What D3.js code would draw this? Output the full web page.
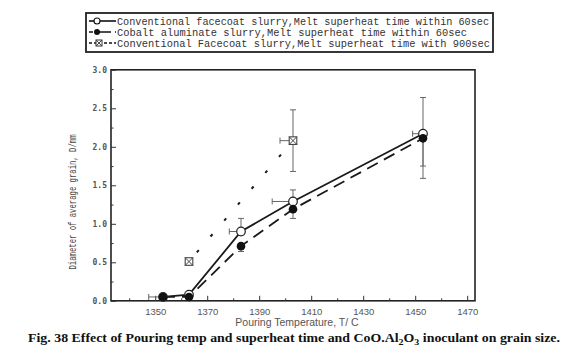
<!DOCTYPE html>
<html>
<head>
<meta charset="utf-8">
<script src="https://cdn.jsdelivr.net/npm/d3@7"></script>
<style>
  body { margin: 0; background: #fff; }
  svg { display: block; }
</style>
</head>
<body>
<svg id="chart" width="571" height="352"></svg>
<script>
// data
var temps = [1353, 1363, 1383, 1403, 1453];
var conv60 = [0.05, 0.08, 0.90, 1.29, 2.17];
var cobalt60 = [0.05, 0.05, 0.71, 1.19, 2.11];
var temps900 = [1363, 1403];
var conv900 = [0.51, 2.08];

// error bar ends (null = none drawn)
var conv60Up = [null, null, 1.07, 1.44, 2.64];
var conv60Down = [null, null, null, null, 1.59];
var conv60Left = [null, null, 1378.5, 1395, 1449];
var cobaltDown = [null, null, 0.64, 1.07, 1.75];
var cobaltLeft = [1347.5, null, null, null, null];
var conv900Up = [null, 2.48];
var conv900Down = [null, 1.68];
var conv900Left = [null, 1398];

var xTicks = [1350, 1370, 1390, 1410, 1430, 1450, 1470];
var xMinor = [1340, 1360, 1380, 1400, 1420, 1440, 1460];
var yTicks = [0, 0.5, 1.0, 1.5, 2.0, 2.5, 3.0];
var yMinor = [0.25, 0.75, 1.25, 1.75, 2.25, 2.75];

var legendLabels = [
  "Conventional facecoat slurry,Melt superheat time within 60sec",
  "Cobalt aluminate slurry,Melt superheat time within 60sec",
  "Conventional Facecoat slurry,Melt superheat time with 900sec"
];

var svg = d3.select("#chart");
svg.append("rect").attr("width", 571).attr("height", 352).attr("fill", "#fff");

var x = d3.scaleLinear().domain([1333, 1473]).range([111, 475]);
var y = d3.scaleLinear().domain([0, 3]).range([300.8, 69.8]);

// frame
svg.append("rect")
  .attr("x", x.range()[0]).attr("y", y.range()[1])
  .attr("width", x.range()[1] - x.range()[0])
  .attr("height", y.range()[0] - y.range()[1])
  .attr("fill", "none").attr("stroke", "#222").attr("stroke-width", 1.6);

// x axis (ticks inward)
var xAxis = svg.append("g").attr("transform", "translate(0," + y(0) + ")");
xAxis.call(d3.axisBottom(x).tickValues(xTicks).tickSize(-5).tickFormat(d3.format("d")));
xAxis.select(".domain").remove();
xAxis.selectAll(".tick line").attr("stroke", "#333");
xAxis.selectAll(".tick text")
  .attr("y", 7).attr("dy", "0.71em")
  .attr("fill", "#555").attr("font-family", "Liberation Sans, Arial, sans-serif")
  .attr("font-size", 9.5);
svg.append("g").attr("transform", "translate(0," + y(0) + ")")
  .call(d3.axisBottom(x).tickValues(xMinor).tickSize(-2.5).tickFormat(""))
  .call(function (g) { g.select(".domain").remove(); g.selectAll("line").attr("stroke", "#333"); });

// y axis
var yAxis = svg.append("g").attr("transform", "translate(" + x.range()[0] + ",0)");
yAxis.call(d3.axisLeft(y).tickValues(yTicks).tickSize(-5).tickFormat(d3.format(".1f")));
yAxis.select(".domain").remove();
yAxis.selectAll(".tick line").attr("stroke", "#333");
yAxis.selectAll(".tick text")
  .attr("x", -4)
  .attr("fill", "#555").attr("font-family", "DejaVu Sans Mono, monospace")
  .attr("font-weight", "bold").attr("font-size", 8);
svg.append("g").attr("transform", "translate(" + x.range()[0] + ",0)")
  .call(d3.axisLeft(y).tickValues(yMinor).tickSize(-2.5).tickFormat(""))
  .call(function (g) { g.select(".domain").remove(); g.selectAll("line").attr("stroke", "#333"); });

// axis titles
svg.append("text")
  .attr("transform", "translate(76,202) rotate(-90)")
  .attr("text-anchor", "middle")
  .attr("font-family", "Liberation Mono, monospace").attr("font-size", 11.5)
  .attr("fill", "#444")
  .attr("textLength", 135).attr("lengthAdjust", "spacingAndGlyphs")
  .text("Diameter of average grain, D/mm");

svg.append("text")
  .attr("x", 297).attr("y", 326)
  .attr("text-anchor", "middle")
  .attr("font-family", "Liberation Sans, Arial, sans-serif").attr("font-size", 10.5)
  .attr("fill", "#555")
  .text("Pouring Temperature, T/ C");

// lines
var lineGen = d3.line().x(function (d) { return x(d[0]); }).y(function (d) { return y(d[1]); });
svg.append("path")
  .datum(d3.zip(temps, conv60))
  .attr("d", lineGen).attr("fill", "none").attr("stroke", "#1a1a1a").attr("stroke-width", 1.8);
svg.append("path")
  .datum(d3.zip(temps, cobalt60))
  .attr("d", lineGen).attr("fill", "none").attr("stroke", "#1a1a1a").attr("stroke-width", 1.8)
  .attr("stroke-dasharray", "12,7");
svg.append("path")
  .datum(d3.zip(temps900, conv900))
  .attr("d", lineGen).attr("fill", "none").attr("stroke", "#1a1a1a").attr("stroke-width", 2)
  .attr("stroke-dasharray", "3,18").attr("stroke-dashoffset", -12);

// error bars
var eb = svg.append("g").attr("stroke", "#666").attr("stroke-width", 1).attr("fill", "none");
function vBar(t, v, end) {
  if (end == null) return;
  eb.append("line").attr("x1", x(t)).attr("x2", x(t)).attr("y1", y(v)).attr("y2", y(end));
  eb.append("line").attr("x1", x(t) - 3).attr("x2", x(t) + 3).attr("y1", y(end)).attr("y2", y(end));
}
function hBar(t, v, end) {
  if (end == null) return;
  eb.append("line").attr("x1", x(t)).attr("x2", x(end)).attr("y1", y(v)).attr("y2", y(v));
  eb.append("line").attr("x1", x(end)).attr("x2", x(end)).attr("y1", y(v) - 3).attr("y2", y(v) + 3);
}
temps.forEach(function (t, i) {
  vBar(t, conv60[i], conv60Up[i]);
  vBar(t, conv60[i], conv60Down[i]);
  hBar(t, conv60[i], conv60Left[i]);
  vBar(t, cobalt60[i], cobaltDown[i]);
  hBar(t, cobalt60[i], cobaltLeft[i]);
});
temps900.forEach(function (t, i) {
  vBar(t, conv900[i], conv900Up[i]);
  vBar(t, conv900[i], conv900Down[i]);
  hBar(t, conv900[i], conv900Left[i]);
});

// markers
function crossSquare(g, cx, cy, s) {
  g.append("rect").attr("x", cx - s).attr("y", cy - s).attr("width", 2 * s).attr("height", 2 * s)
    .attr("fill", "#fff").attr("stroke", "#444").attr("stroke-width", 1.1);
  g.append("path").attr("d", "M" + (cx - s) + "," + (cy - s) + "L" + (cx + s) + "," + (cy + s) +
      "M" + (cx + s) + "," + (cy - s) + "L" + (cx - s) + "," + (cy + s))
    .attr("stroke", "#444").attr("stroke-width", 1);
}
svg.append("g").selectAll("circle").data(d3.zip(temps, conv60)).join("circle")
  .attr("cx", function (d) { return x(d[0]); }).attr("cy", function (d) { return y(d[1]); })
  .attr("r", 4.3).attr("fill", "#fff").attr("stroke", "#222").attr("stroke-width", 1.2);
svg.append("g").selectAll("circle").data(d3.zip(temps, cobalt60)).join("circle")
  .attr("cx", function (d) { return x(d[0]); }).attr("cy", function (d) { return y(d[1]); })
  .attr("r", 4.3).attr("fill", "#111");
var sq = svg.append("g");
temps900.forEach(function (t, i) { crossSquare(sq, x(t), y(conv900[i]), 3.8); });

// legend
var lg = svg.append("g");
lg.append("rect").attr("x", 86).attr("y", 13).attr("width", 407).attr("height", 39)
  .attr("fill", "#fff").attr("stroke", "#222").attr("stroke-width", 1.8);
var rowsY = [21, 32, 43];
var lens = [372, 350, 373];
lg.append("line").attr("x1", 89).attr("x2", 116).attr("y1", rowsY[0]).attr("y2", rowsY[0])
  .attr("stroke", "#111").attr("stroke-width", 1.6);
lg.append("circle").attr("cx", 97).attr("cy", rowsY[0]).attr("r", 3)
  .attr("fill", "#fff").attr("stroke", "#111").attr("stroke-width", 1.1);
lg.append("line").attr("x1", 89).attr("x2", 116).attr("y1", rowsY[1]).attr("y2", rowsY[1])
  .attr("stroke", "#111").attr("stroke-width", 1.6).attr("stroke-dasharray", "4,4,0,0,10,0");
lg.append("circle").attr("cx", 97).attr("cy", rowsY[1]).attr("r", 3).attr("fill", "#111");
lg.append("line").attr("x1", 89).attr("x2", 116).attr("y1", rowsY[2]).attr("y2", rowsY[2])
  .attr("stroke", "#111").attr("stroke-width", 1.3).attr("stroke-dasharray", "3,2");
crossSquare(lg, 99, rowsY[2], 3);
lg.selectAll("text.lbl").data(legendLabels).join("text")
  .attr("class", "lbl")
  .attr("x", 117).attr("y", function (d, i) { return rowsY[i] + 3.5; })
  .attr("font-family", "Liberation Mono, monospace").attr("font-size", 10)
  .attr("fill", "#333")
  .attr("textLength", function (d, i) { return lens[i]; })
  .attr("lengthAdjust", "spacingAndGlyphs")
  .text(function (d) { return d; });

// caption
var cap = svg.append("text")
  .attr("x", 28).attr("y", 342)
  .attr("font-family", "Liberation Serif, Times New Roman, serif").attr("font-weight", "bold")
  .attr("font-size", 12.5).attr("fill", "#111")
  .attr("textLength", 532).attr("lengthAdjust", "spacingAndGlyphs");
cap.append("tspan").text("Fig. 38 Effect of Pouring temp and superheat time and CoO.Al");
cap.append("tspan").attr("font-size", 9).attr("dy", 3).text("2");
cap.append("tspan").attr("dy", -3).text("O");
cap.append("tspan").attr("font-size", 9).attr("dy", 3).text("3");
cap.append("tspan").attr("dy", -3).text(" inoculant on grain size.");
</script>
</body>
</html>
